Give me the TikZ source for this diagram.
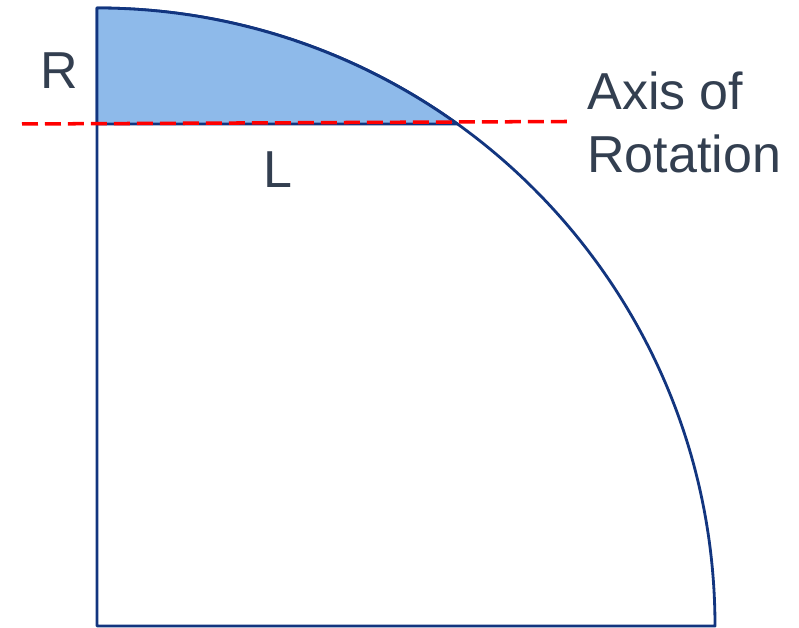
\documentclass[tikz,border=0pt]{standalone}
\usepackage{fontspec}
\setmainfont{Liberation Sans}
\usepackage{xcolor}
\usepackage{tikz}
\usetikzlibrary{positioning,calc}

\definecolor{navyline}{HTML}{12357F}
\definecolor{capfill}{HTML}{8EBAEA}
\definecolor{labeltext}{HTML}{333F50}

\begin{document}
\begin{tikzpicture}[
    x=0.02cm, y=0.02cm,
    outline/.style={draw=navyline, line width=1.6pt, line join=round},
    axisline/.style={draw=red, line width=2pt, dash pattern=on 0.32cm off 0.14cm},
    lbl/.style={font=\fontsize{29.6}{35.9}\selectfont, text=labeltext, inner sep=0pt, anchor=base}
]
\useasboundingbox (0,0) rectangle (799,628);

% centre and corners of the quarter disc
\coordinate (centre) at (97,2);
\coordinate (top) at (97,620);
\coordinate (right) at (715,2);
\coordinate (chordL) at (97,504);
\coordinate (chordR) at (457.4,504);

% quarter disc
\draw[outline] (centre) -- (top) arc[start angle=90, end angle=0, radius=618] -- cycle;

% shaded cap above the axis
\filldraw[outline, fill=capfill] (top) arc[start angle=90, end angle=54.33, radius=618] -- (chordL) -- cycle;

% axis of rotation
\coordinate (axisW) at (22,504);
\coordinate (axisE) at (568,506.5);
\draw[axisline] (axisW) -- (axisE);

% labels
\node[lbl] (rlabel) at (59.5,539) {R};
\node[lbl] (llabel) at (278,440) {L};
\node[lbl, anchor=base west] (axis1) at (587,518) {Axis of};
\node[lbl, anchor=base west] (axis2) at (587,455) {Rotation};

\end{tikzpicture}
\end{document}
